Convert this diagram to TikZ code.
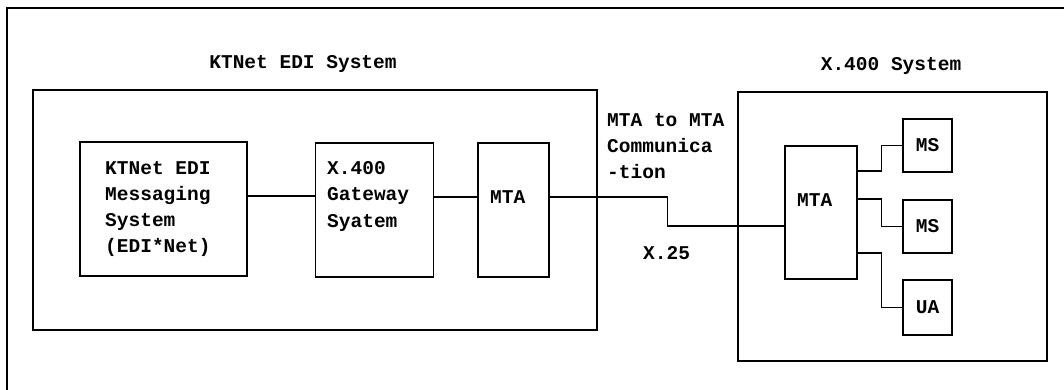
\documentclass[tikz,border=0pt]{standalone}
\usepackage{fontspec}
\setmonofont{Liberation Mono}
\begin{document}
\begin{tikzpicture}[x=1pt,y=-1pt,
  box/.style={draw,line width=1.5pt,inner sep=0pt},
  conn/.style={line width=1.3pt},
  lbl/.style={font=\ttfamily\bfseries\fontsize{19.5}{26}\selectfont,inner sep=0pt,align=left}]
\useasboundingbox (0,0) rectangle (1064,390);
% outer frame (partly visible)
\coordinate (fbl) at (7,392);
\coordinate (ftl) at (7,8);
\coordinate (ftr) at (1066,8);
\draw[line width=1.4pt] (fbl) -- (ftl) -- (ftr);
% left system
\node[box,minimum width=564pt,minimum height=240pt] (lsys) at (315,210) {};
\node[lbl,anchor=center] (ltitle) at (303,64) {KTNet EDI System};
\node[box,minimum width=167pt,minimum height=134pt] (b1) at (163.5,209) {};
\node[box,minimum width=118pt,minimum height=134pt] (b2) at (374.5,210) {};
\node[box,minimum width=71pt,minimum height=134pt] (b3) at (513.5,210) {};
\node[lbl,anchor=west] (t1) at (105,209.5) {KTNet EDI\\Messaging\\System\\(EDI*Net)};
\node[lbl,anchor=west] (t2) at (327,196.5) {X.400\\Gateway\\Syatem};
\node[lbl,anchor=west] (t3) at (490,197) {MTA};
% right system
\node[box,minimum width=309pt,minimum height=269pt] (rsys) at (892.5,226.5) {};
\node[lbl,anchor=center] (rtitle) at (891,66) {X.400 System};
\node[box,minimum width=72pt,minimum height=133pt] (rmta) at (821,212.5) {};
\node[box,minimum width=49pt,minimum height=53pt] (ms1) at (927.5,145.5) {};
\node[box,minimum width=49pt,minimum height=53pt] (ms2) at (927.5,226.5) {};
\node[box,minimum width=49pt,minimum height=55pt] (ua) at (927.5,307.5) {};
\node[lbl,anchor=west] (t4) at (797,200) {MTA};
\node[lbl] (t5) at (ms1) {MS};
\node[lbl] (t6) at (ms2) {MS};
\node[lbl] (t7) at (ua) {UA};
% labels of the link
\node[lbl,anchor=west] (t8) at (607,146) {MTA to MTA\\Communica\\-tion};
\node[lbl,anchor=west] (t9) at (643,253) {X.25};
% connectors
\draw[conn] ([yshift=13pt]b1.east) -- ([yshift=13pt]b1.east -| b2.west);
\draw[conn] ([yshift=13pt]b2.east) -- ([yshift=13pt]b2.east -| b3.west);
\draw[conn] ([yshift=13pt]b3.east) -- ++(118,0) |- ([yshift=-13.5pt]rmta.west);
\draw[conn] ([yshift=41.5pt]rmta.east) -- ++(24,0) |- (ms1.west);
\draw[conn] ([yshift=13.5pt]rmta.east) -- ++(24,0) |- (ms2.west);
\draw[conn] ([yshift=-40.5pt]rmta.east) -- ++(24,0) |- (ua.west);
\end{tikzpicture}
\end{document}
